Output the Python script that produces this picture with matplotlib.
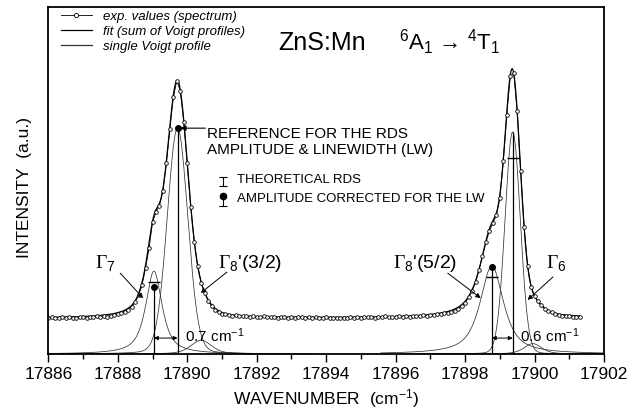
import numpy as np
import matplotlib
matplotlib.use('Agg')
import matplotlib.pyplot as plt
from matplotlib.lines import Line2D

plt.rcParams['font.family'] = ['Liberation Sans', 'DejaVu Sans']
plt.rcParams['mathtext.fontset'] = 'custom'
plt.rcParams['mathtext.rm'] = 'Liberation Serif'
plt.rcParams['mathtext.sf'] = 'Liberation Sans'
plt.rcParams['mathtext.it'] = 'Liberation Sans:italic'
plt.rcParams['mathtext.default'] = 'regular'

#
# - data
#

# experimental spectrum, sampled every 0.1 cm-1 from 17886.0 to 17901.3
wn_exp = np.round(np.arange(17886.0, 17901.35, 0.1), 1)
int_exp = [
    .104, .106, .103, .105, .107, .104, .106, .105, .103, .106,
    .107, .105, .108, .106, .109, .107, .110, .108, .111, .112,
    .116, .118, .122, .128, .136, .150, .170, .200, .248, .305,
    .380, .410, .428, .470, .550, .650, .740, .788, .758, .670,
    .550, .425, .324, .253, .206, .176, .154, .138, .127, .120,
    .116, .114, .112, .111, .112, .110, .109, .110, .108, .109,
    .108, .107, .109, .106, .108, .107, .105, .107, .106, .105,
    .107, .105, .108, .106, .104, .107, .105, .106, .104, .105,
    .106, .104, .105, .103, .105, .104,
    .105, .107, .104, .106,
    .105, .108, .106, .107, .105, .108, .107, .109, .106, .108,
    .107, .109, .108, .110, .108, .111, .109, .110, .112, .111,
    .112, .113, .114, .116, .117, .119, .122, .125, .131, .138,
    .148, .163, .183, .207, .242, .282, .322, .355, .377, .400,
    .450, .555, .690, .800, .810, .700, .528, .365, .253, .192,
    .167, .152, .141, .131, .124, .120, .116, .113, .111, .110,
    .109, .108, .108, .107,
]

# single Voigt profiles (pseudo-Voigt parameters) and constant background
background = 0.103
centers = [17889.04, 17889.72, 17890.40, 17898.77, 17899.37, 17899.95]
amplitudes = [0.239, 0.651, 0.040, 0.254, 0.640, 0.030]
hwhm = [0.28, 0.35, 0.35, 0.40, 0.26, 0.30]
lorentz_frac = [0.8, 0.1, 0.5, 0.8, 0.05, 0.5]

# RDS markers: amplitude corrected for LW (dots) and theoretical RDS (bars)
dot_wn = [17889.04, 17889.72, 17898.77]
dot_int = [0.193, 0.651, 0.251]
rds_wn = [17889.04, 17898.77, 17899.37]
rds_int = [0.207, 0.222, 0.565]
vline_wn = [17889.04, 17889.72, 17898.77, 17899.37]
vline_top = [0.193, 0.651, 0.251, 0.640]


def pvoigt(x, c, a, w, eta):
    u2 = ((x - c) / w) ** 2
    return a * (eta / (1 + u2) + (1 - eta) * np.exp(-np.log(2) * u2))


#
# plot
#

fig = plt.figure(figsize=(6.41, 4.16), dpi=100)
ax = fig.add_axes([0.0754, 0.149, 0.8669, 0.834])

xf = np.linspace(17886.0, 17901.3, 3000)
fit = background + sum(pvoigt(xf, c, a, w, e) for c, a, w, e in
                       zip(centers, amplitudes, hwhm, lorentz_frac))

for c, a, w, e in zip(centers, amplitudes, hwhm, lorentz_frac):
    xs = np.linspace(max(c - 3.2, 17886), min(c + 3.2, 17902), 800)
    ax.plot(xs, pvoigt(xs, c, a, w, e), color='0.2', lw=0.55)

ax.plot(xf, fit, color='k', lw=0.9)
ax.plot(wn_exp, int_exp, color='k', lw=0.6, marker='o', ms=2.6,
        mfc='white', mec='k', mew=0.6)

ax.vlines(vline_wn, 0, vline_top, color='k', lw=0.9)
ax.plot(dot_wn, dot_int, 'o', color='k', ms=4)
ax.plot(rds_wn, rds_int, '_', color='k', ms=8, mew=1.0)

# line distances
for x0, x1, lab in [(17889.04, 17889.72, '0.7 cm$^{-1}$'),
                    (17898.77, 17899.37, '0.6 cm$^{-1}$')]:
    ax.annotate('', xy=(x0, 0.046), xytext=(x1, 0.046),
                arrowprops=dict(arrowstyle='<|-|>', lw=0.7, color='k',
                                mutation_scale=6, shrinkA=0, shrinkB=0))
    ax.text(x1 + 0.21, 0.052, lab, fontsize=11, va='center', ha='left')

# reference arrow
ax.annotate('', xy=(17889.80, 0.651), xytext=(17890.52, 0.651),
            arrowprops=dict(arrowstyle='-|>', lw=0.8, color='k',
                            mutation_scale=8, shrinkA=0, shrinkB=0))
ax.text(17890.57, 0.611, 'REFERENCE FOR THE RDS\nAMPLITUDE & LINEWIDTH (LW)',
        fontsize=11, va='center', ha='left', linespacing=1.1)

# symbol key
ax.errorbar([17891.03], [0.497], yerr=[[0.013], [0.013]], fmt='none',
            ecolor='k', elinewidth=0.8, capsize=3, capthick=0.8)
ax.text(17891.43, 0.501, 'THEORETICAL RDS', fontsize=9.5, va='center')
ax.plot([17891.03, 17891.03], [0.455, 0.427], color='k', lw=0.8)
ax.plot([17891.03], [0.427], '_', color='k', ms=6, mew=0.8)
ax.plot([17891.03], [0.455], 'o', color='k', ms=4.5)
ax.text(17891.43, 0.447, 'AMPLITUDE CORRECTED FOR THE LW', fontsize=9.5,
        va='center')

# titles
ax.text(17892.61, 0.876, 'ZnS:Mn', fontsize=18, va='baseline')
ax.text(17896.1, 0.876, '$^6$A$_1$ \u2192 $^4$T$_1$', fontsize=16,
        va='baseline')

# level labels
gam = r'$\mathrm{\Gamma}_{%s}$'
labels = [(gam % '7', 17887.35, (17888.07, 0.233), (17888.73, 0.161)),
          (gam % '8' + "'(3/2)", 17890.88, (17891.14, 0.236), (17890.39, 0.176)),
          (gam % '8' + "'(5/2)", 17895.92, (17897.50, 0.233), (17898.45, 0.161)),
          (gam % '6', 17900.34, (17900.53, 0.222), (17899.80, 0.156))]
for txt, xt, p0, p1 in labels:
    ax.text(xt, 0.248, txt, fontsize=14, va='baseline')
    ax.annotate('', xy=p1, xytext=p0,
                arrowprops=dict(arrowstyle='-|>', lw=0.7, color='k',
                                mutation_scale=7, shrinkA=0, shrinkB=0))

# legend
handles = [Line2D([], [], color='k', lw=0.6, marker='o', ms=3, mfc='white', mew=0.6),
           Line2D([], [], color='k', lw=0.9),
           Line2D([], [], color='0.2', lw=0.9)]
ax.legend(handles, ['exp. values (spectrum)', 'fit (sum of Voigt profiles)',
                    'single Voigt profile'],
          loc='upper left', bbox_to_anchor=(0.022, 0.99), frameon=False,
          numpoints=1, handlelength=2.4, handletextpad=0.8, labelspacing=0.2,
          borderpad=0, borderaxespad=0, prop={'style': 'italic', 'size': 9.5})

ax.set_xlim(17886, 17902)
ax.set_ylim(0, 1)
ax.set_xticks(np.arange(17886, 17903, 2))
ax.set_xticks(np.arange(17887, 17902, 2), minor=True)
ax.set_yticks([])
ax.tick_params(axis='x', which='major', direction='out', length=6, width=1,
               labelsize=12.5, pad=3)
ax.tick_params(axis='x', which='minor', direction='out', length=3.5, width=1)
ax.xaxis.set_major_formatter(matplotlib.ticker.FormatStrFormatter('%d'))
for s in ax.spines.values():
    s.set_linewidth(1.3)

ax.set_xlabel('WAVENUMBER  (cm$^{-1}$)', fontsize=12.5, labelpad=4)
ax.set_ylabel('INTENSITY  (a.u.)', fontsize=12.5)
ax.yaxis.set_label_coords(-0.03, 0.48)

fig.savefig('out.png', dpi=100)
